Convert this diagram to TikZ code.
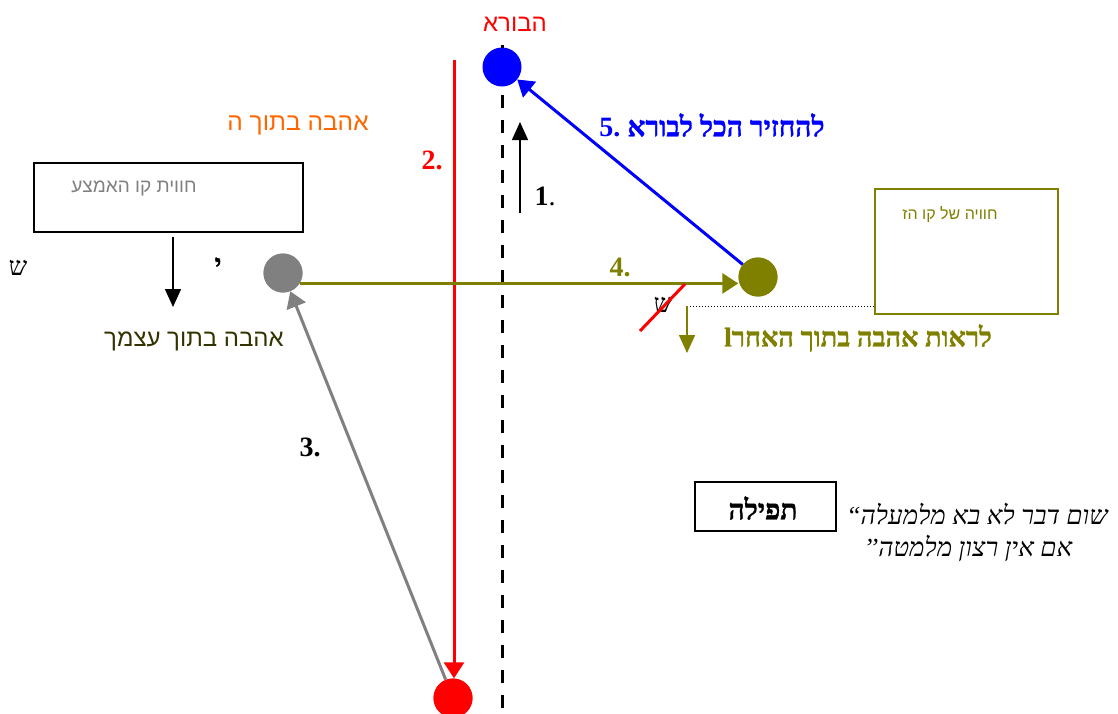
\documentclass[tikz,border=0pt]{standalone}
\usepackage{fontspec}
\setmainfont{Liberation Serif}
\newfontfamily\hsans[Script=Hebrew]{Liberation Sans}
\newfontfamily\hserif[Script=Hebrew]{Liberation Serif}
\newfontfamily\hbold[Script=Hebrew,FakeBold=1.2]{Liberation Serif Bold}
\newfontfamily\hital[Script=Hebrew]{Liberation Serif Italic}
\TeXXeTstate=1
\usetikzlibrary{arrows.meta}
\definecolor{olv}{RGB}{128,128,0}
\definecolor{dolv}{RGB}{51,51,0}
\definecolor{orng}{RGB}{255,102,0}
\definecolor{gry}{RGB}{128,128,128}
\tikzset{
  dot/.style={circle,inner sep=0pt,minimum size=39pt},
  lbl/.style={inner sep=0pt,anchor=center},
  tipbig/.style={-{Triangle[length=16pt,width=20pt]}},
  tipsmall/.style={-{Triangle[length=18pt,width=16pt]}},
  frame/.style={draw,inner sep=0pt}
}
\newcommand{\fs}[1]{\fontsize{#1}{#1}\selectfont}
\begin{document}
\begin{tikzpicture}[x=1pt,y=-1pt]
\useasboundingbox (0,0) rectangle (1118,713);

% vertical dashed axis
\coordinate (axtop) at (502,45);
\coordinate (axbot) at (502,713);
\draw[line width=3pt,dash pattern=on 13pt off 12pt] (axtop) -- (axbot);

% circles
\node[dot,fill=blue] (creator) at (502,67) {};
\node[dot,fill=red] (redc) at (453,698) {};
\node[dot,fill=gry] (grayc) at (283,273) {};
\node[dot,fill=olv] (olivec) at (758,277) {};

% red line 2
\coordinate (redtop) at (454,60);
\draw[red,line width=3pt,tipbig] (redtop) -- (redtop |- redc.north);
\node[dot,fill=red] at (redc) {};

% black arrow 1
\coordinate (up1) at (520,213);
\coordinate (up2) at (520,122);
\draw[line width=1.5pt,tipsmall] (up1) -- (up2);

% blue arrow 5
\draw[blue,line width=3pt,tipbig] (olivec) -- (creator);

% gray arrow 3
\draw[gry,line width=3pt,tipbig] (redc) -- (grayc);
\node[dot,fill=gry] at (grayc) {};

% olive arrow 4
\draw[olv,line width=3pt,tipbig] (grayc.-32) -- (grayc.-32 -| olivec.west);
\node[dot,fill=olv] at (olivec) {};

% labels
\node[lbl,text=red] (lcreator) at (515,24) {\hsans\fs{24}\beginR הבורא\endR};
\node[lbl,text=red] (l2) at (432,160) {\bfseries\fs{28}2.};
\node[lbl] (l1) at (545,196) {\fs{28}\textbf{1}.};
\node[lbl,text=blue] (l5) at (712,125) {\fs{28}{\rmfamily\bfseries 5.}\hbold\ \beginR להחזיר הכל לבורא\endR};
\node[lbl,text=orng] (lor) at (298,125) {\hsans\fs{24.5}\beginR אהבה בתוך ה\endR};
\node[lbl] (l3) at (310,447) {\bfseries\fs{28}3.};
\node[lbl,text=olv] (l4) at (620,267) {\bfseries\fs{28}4.};

% left box
\node[frame,line width=1.3pt,minimum width=269pt,minimum height=69pt] (boxL) at (168.5,197.5) {};
\node[lbl,text=gry] (boxLt) at (134,188) {\hsans\fs{19}\beginR חווית קו האמצע\endR};
\coordinate (dn1) at (173,237);
\coordinate (dn2) at (173,307);
\draw[line width=1.5pt,tipsmall] (dn1) -- (dn2);
\node[lbl] (shinL) at (18,268) {\hserif\fs{26}\beginR ש\endR};
\node[lbl] (yod) at (218,265) {\hbold\fs{26}\beginR י\endR};
\node[lbl,text=dolv] (lself) at (194,341) {\hsans\fs{24}\beginR אהבה בתוך עצמך\endR};

% right box
\node[frame,draw=olv,line width=2pt,minimum width=183pt,minimum height=125pt] (boxR) at (966.5,251.5) {};
\node[lbl,text=olv] (boxRt) at (950,214) {\hsans\fs{16}\beginR חוויה של קו הז\endR};
\coordinate (dotA) at (boxR.west |- 0,306);
\coordinate (dotB) at (687,306);
\coordinate (dotC) at (687,353);
\draw[line width=1pt,dotted] (dotA) -- (dotB);
\draw[olv,line width=1.5pt,tipsmall] (dotB) -- (dotC);
\node[lbl] (shinR) at (663,305) {\hserif\fs{26}\beginR ש\endR};
\coordinate (sl1) at (640,331);
\coordinate (sl2) at (685,284);
\draw[red,line width=3pt] (sl1) -- (sl2);
\node[lbl,text=olv] (lother) at (858,338) {\hbold\fs{27}l\beginR לראות אהבה בתוך האחר\endR};

% prayer
\node[frame,line width=1.8pt,minimum width=141pt,minimum height=49pt] (pray) at (765.5,506.5) {};
\node[lbl] (prayt) at (763,508) {\hbold\fs{28}\beginR תפילה\endR};
\node[lbl] (q1) at (977,514) {\hital\fs{26}\beginR שום דבר לא בא מלמעלה“\endR};
\node[lbl] (q2) at (968,548) {\hital\fs{26}\beginR אם אין רצון מלמטה’’\endR};
\end{tikzpicture}
\end{document}
